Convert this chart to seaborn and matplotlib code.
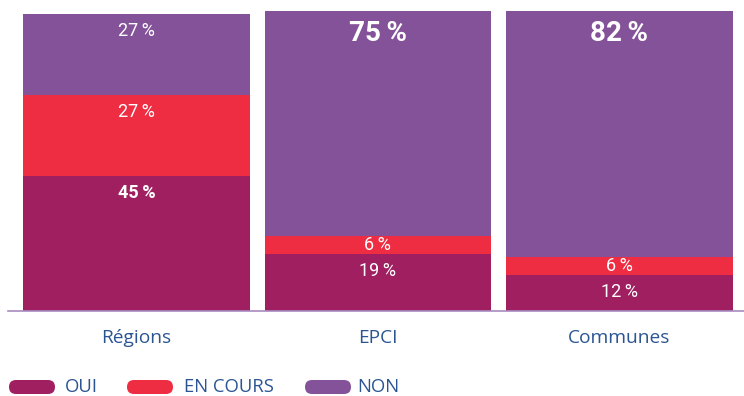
import matplotlib
matplotlib.use("Agg")
import matplotlib.pyplot as plt
from matplotlib.patches import FancyBboxPatch
from matplotlib.transforms import Affine2D
import seaborn as sns
import pandas as pd
import numpy as np

categories = ["Régions", "EPCI", "Communes"]
series = ["OUI", "EN COURS", "NON"]
oui = [45, 19, 12]
en_cours = [27, 6, 6]
non = [27, 75, 82]

colors = {"OUI": "#a01f60", "EN COURS": "#ee2c42", "NON": "#835298"}
text_blue = "#2b5592"

sns.set_theme(style="white")
plt.rcParams["font.family"] = ["Open Sans", "DejaVu Sans"]

W, H = 744, 396
fig = plt.figure(figsize=(W / 100, H / 100), dpi=100)
ax = fig.add_axes([8 / W, 85 / H, 736 / W, 300 / H])

df = pd.DataFrame({"cat": categories, "OUI": oui, "EN COURS": en_cours, "NON": non})
bottom = np.zeros(len(categories))
pct = "{}\u2009%"
for s in series:
    sns.barplot(data=df, x="cat", y=s, color=colors[s], width=0.94,
                bottom=bottom, saturation=1, ax=ax, linewidth=0)
    vals = df[s].to_numpy()
    for i, v in enumerate(vals):
        top = bottom[i] + v
        if s == "NON" and v > 50:
            ax.annotate(pct.format(v), (i, top), xytext=(0, -16.5),
                        textcoords="offset points", ha="center", va="center",
                        color="white", fontsize=20, fontweight="bold",
                        family="Roboto")
        elif v < 10:
            ax.text(i, bottom[i] + v / 2, pct.format(v), ha="center", va="center",
                    color="white", fontsize=13, family="Roboto")
        else:
            bold = (s == "OUI" and i == 0)
            ax.annotate(pct.format(v), (i, top), xytext=(0, -12.5),
                        textcoords="offset points", ha="center", va="center",
                        color="white", fontsize=13, family="Roboto",
                        fontweight="bold" if bold else "normal")
    bottom = bottom + vals

ax.set_xlim(-0.533, 2.517)
ax.set_ylim(0, 100)
ax.set_xlabel("")
ax.set_ylabel("")
ax.set_yticks([])
ax.tick_params(axis="x", length=0, pad=13, labelsize=13.8, labelcolor=text_blue)
for sp in ["top", "right", "left"]:
    ax.spines[sp].set_visible(False)
ax.spines["bottom"].set_color("#a78bbf")
ax.spines["bottom"].set_linewidth(1.2)
ax.set_facecolor("none")

# legend: pill-shaped swatches laid out in pixel units
px_trans = Affine2D().scale(1 / W, -1 / H).translate(0, 1) + fig.transFigure
legend_items = [("OUI", 9, 65), ("EN COURS", 127, 184), ("NON", 305, 357)]
for name, px, tx in legend_items:
    pill = FancyBboxPatch((px, 380), 46, 14,
                          boxstyle="round,pad=0,rounding_size=7",
                          transform=px_trans, facecolor=colors[name],
                          edgecolor="none")
    fig.patches.append(pill)
    fig.text(tx / W, (H - 386.5) / H, name, ha="left", va="center",
             color=text_blue, fontsize=13.3)

fig.savefig("out.png", dpi=100)
